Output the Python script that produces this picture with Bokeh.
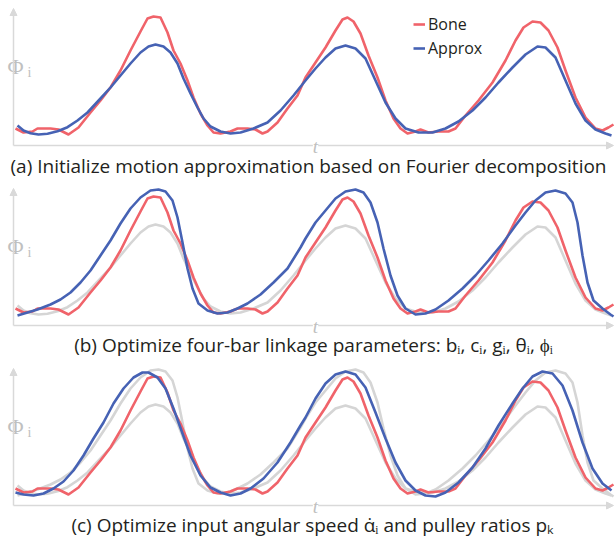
from bokeh.plotting import figure
from bokeh.models import Range1d, Arrow, NormalHead, Label, Legend, LegendItem
from bokeh.core.properties import value
from bokeh.embed import file_html
from bokeh.resources import INLINE

# ---- data (t in reference pixels, h = height above each panel's t axis) ----
bone_t = [15, 23, 32, 37, 50, 58, 68, 78, 90, 100, 110, 120, 130, 140, 147, 153, 160, 167, 173, 180,
          187, 193, 200, 207, 213, 220, 230, 237, 247, 255, 262, 267, 277, 287, 297, 305, 315, 325, 335,
          342, 347, 353, 360, 368, 377, 385, 393, 400, 407, 415, 420, 428, 438, 448, 455, 465, 478, 492,
          505, 515, 523, 532, 540, 548, 557, 565, 575, 585, 595, 602, 608, 613]
bone_h = [17, 13, 14, 17, 17, 16, 11, 18, 33, 45, 58, 75, 95, 114, 127, 129, 128, 113, 95, 82,
          65, 48, 32, 20, 13, 12, 14, 17, 17, 16, 12, 14, 23, 37, 50, 68, 83, 98, 115,
          126, 128, 124, 112, 90, 68, 45, 27, 17, 12, 14, 16, 13, 14, 14, 17, 30, 45, 63,
          85, 105, 118, 124, 123, 115, 98, 75, 48, 28, 17, 15, 18, 21]

fourier_t = [17, 23, 30, 38, 47, 57, 67, 77, 87, 100, 110, 120, 130, 140, 148, 155, 163, 170, 177, 183,
             190, 197, 203, 210, 220, 230, 240, 253, 267, 280, 293, 305, 315, 325, 335, 345, 355, 365,
             375, 385, 395, 405, 418, 432, 445, 458, 472, 485, 498, 512, 525, 537, 545, 555, 565, 575,
             585, 595, 605, 611]
fourier_h = [20, 15, 12.3, 11, 11.7, 14.3, 18.3, 25, 33, 47, 58, 70, 82, 93, 99, 101, 99, 93, 82, 67,
             52, 38, 27, 19, 14, 12, 13, 17, 23, 35, 50, 65, 77, 88, 97, 100, 97, 87,
             65, 43, 27, 17, 13, 13, 17, 24, 35, 48, 63, 78, 91, 99, 98, 88, 65, 42,
             25, 16, 12, 10]

fourbar_t = [17, 27, 37, 50, 60, 70, 80, 90, 100, 110, 120, 130, 140, 150, 158, 165, 172, 177, 182, 187,
             192, 198, 207, 217, 227, 237, 247, 260, 273, 287, 300, 305, 315, 325, 335, 345, 355, 363,
             370, 377, 383, 390, 397, 405, 415, 425, 435, 448, 462, 475, 488, 502, 515, 525, 535, 545,
             555, 565, 572, 577, 582, 587, 593, 602, 610, 613]
fourbar_h = [10, 13, 16, 21, 26, 33, 43, 55, 70, 85, 102, 117, 128, 135, 136, 134, 125, 108, 83, 57,
             37, 22, 15, 12, 13, 17, 22, 31, 43, 57, 78, 87, 103, 115, 127, 134, 136, 133,
             123, 103, 77, 50, 30, 17, 11, 12, 16, 25, 37, 50, 65, 82, 100, 113, 125, 133,
             135, 132, 123, 103, 70, 43, 25, 17, 11, 9]

final_t = [15, 23, 33, 43, 53, 63, 73, 83, 93, 103, 113, 123, 133, 142, 148, 157, 165, 173, 182, 190,
           200, 210, 220, 230, 240, 250, 263, 277, 290, 300, 305, 315, 325, 335, 345, 355, 365, 375,
           385, 395, 405, 415, 425, 435, 445, 458, 472, 485, 498, 512, 522, 532, 542, 552, 562, 572,
           582, 592, 602, 611]
final_h = [13, 11, 10, 12, 17, 24, 35, 50, 67, 83, 102, 117, 128, 133, 133, 128, 117, 97, 72, 50,
           30, 18, 13, 10, 12, 17, 27, 43, 63, 80, 88, 107, 122, 131, 134, 131, 118, 93,
           67, 43, 25, 15, 10, 9, 13, 23, 38, 57, 80, 102, 117, 129, 134, 132, 120, 95,
           63, 37, 22, 15]

captions = ["(a) Initialize motion approximation based on Fourier decomposition",
            "(b) Optimize four-bar linkage parameters: bᵢ, cᵢ, gᵢ, θᵢ, ϕᵢ",
            "(c) Optimize input angular speed α̇ᵢ and pulley ratios pₖ"]
legend_labels = ["Bone", "Approx"]

# ---- layout / style ----
RED = "#f0636a"
BLUE = "#4662b4"
GRAY = "#d5d5d5"
AXC = "#d9d9d9"
LBL = "#c0c0c0"
TXT = "#231f20"
axis_y = [145, 325, 505]
caption_x = [308, 313, 312]
caption_y = [165, 344, 524]
t_left, t_right, y_len = 13, 613, 137

p = figure(width=615, height=542, output_backend="svg", toolbar_location=None,
           x_range=Range1d(0, 615), y_range=Range1d(542, 0), min_border=0)
p.axis.visible = False
p.grid.visible = False
p.outline_line_color = None
p.background_fill_color = "white"


def ys(h, ay):
    return [ay - v for v in h]


LW = 2.6
legend_renderers = []
for i, ay in enumerate(axis_y):
    # axes with arrows
    p.add_layout(Arrow(end=NormalHead(size=7, fill_color=AXC, line_color=AXC), x_start=t_left, y_start=ay,
                       x_end=t_left, y_end=ay - y_len, line_color=AXC, line_width=1.5))
    p.add_layout(Arrow(end=NormalHead(size=7, fill_color=AXC, line_color=AXC), x_start=t_left, y_start=ay,
                       x_end=t_right, y_end=ay, line_color=AXC, line_width=1.5))
    p.add_layout(Label(x=315, y=ay + 1, text="t", text_font="Liberation Serif", text_font_style="italic",
                       text_font_size="19px", text_color=LBL, text_align="center",
                       text_baseline="middle", background_fill_color="white"))
    p.text(x=[15], y=[ay - 79], text=["Φ"], text_font=value("Liberation Serif"), text_font_size="22px",
           text_color=LBL, text_align="center", text_baseline="middle")
    p.text(x=[29], y=[ay - 73], text=["i"], text_font=value("Liberation Serif"), text_font_size="14px",
           text_color=LBL, text_align="center", text_baseline="middle")

    # gray previous approximations
    if i >= 1:
        p.line(fourier_t, ys(fourier_h, ay), line_color=GRAY, line_width=LW, line_join="round")
    if i >= 2:
        p.line(fourbar_t, ys(fourbar_h, ay), line_color=GRAY, line_width=LW, line_join="round")
    rb = p.line(bone_t, ys(bone_h, ay), line_color=RED, line_width=LW, line_join="round")
    if i == 0:
        ra = p.line(fourier_t, ys(fourier_h, ay), line_color=BLUE, line_width=LW, line_join="round")
        legend_renderers = [rb, ra]
    elif i == 1:
        p.line(fourbar_t, ys(fourbar_h, ay), line_color=BLUE, line_width=LW, line_join="round")
    else:
        p.line(final_t, ys(final_h, ay), line_color=BLUE, line_width=LW, line_join="round")

    p.text(x=[caption_x[i]], y=[caption_y[i]], text=[captions[i]], text_font=value("Open Sans"),
           text_font_size="19px", text_color=TXT, text_align="center", text_baseline="middle")

legend = Legend(items=[LegendItem(label=legend_labels[0], renderers=[legend_renderers[0]]),
                       LegendItem(label=legend_labels[1], renderers=[legend_renderers[1]])],
                location=(413, 483), padding=0, spacing=2, glyph_width=12, glyph_height=20,
                label_height=20, label_standoff=3, border_line_color=None,
                background_fill_alpha=0, label_text_font="Open Sans",
                label_text_font_size="16px", label_text_color=TXT)
p.add_layout(legend)

open("out.html", "w").write(file_html(p, INLINE))
